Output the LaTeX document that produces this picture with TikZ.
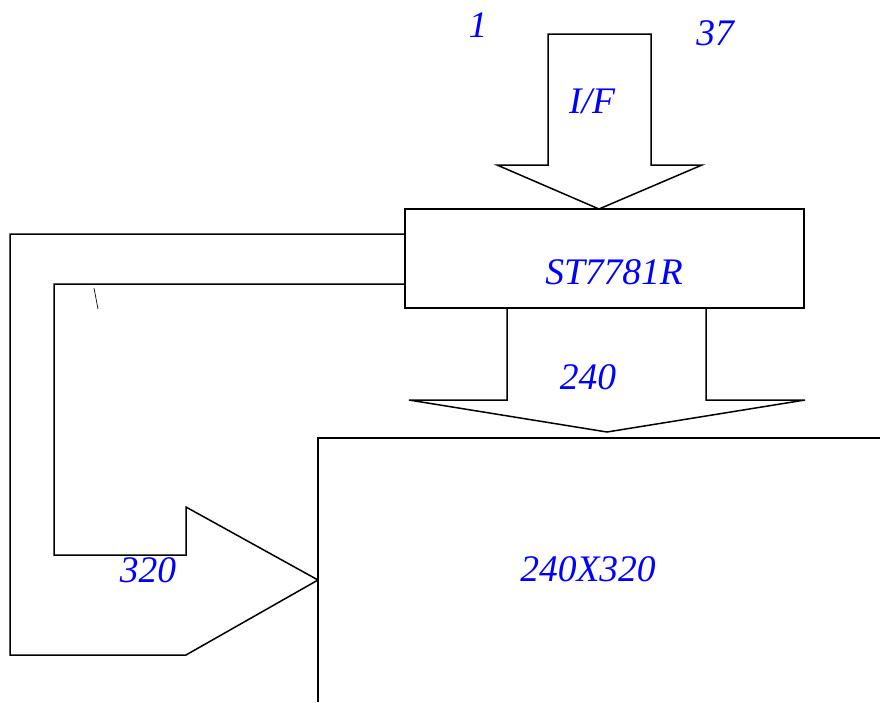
\documentclass[tikz,border=0pt]{standalone}
\usepackage{fontspec}
\setmainfont{Liberation Serif}
\usepackage{tikz}
\usetikzlibrary{positioning}

\begin{document}
\begin{tikzpicture}
                [x=1pt,y=-1pt,line width=1.5pt,line join=miter,
                lbl/.style={text=blue,font=\itshape\fontsize{37.5}{42}\selectfont,inner sep=0pt},
                chip/.style={draw,rectangle,minimum width=399pt,minimum height=99pt,inner sep=0pt}]
                \useasboundingbox (0,0) rectangle (880,702);
                \node[chip] (st) at (604.5,258.5){};
                \node[lbl] (stname) at (614,272){ST7781R};
                % the glass
                \coordinate (lcdtl) at (318,438);
                \draw (880,438) -- (lcdtl) -- (318,702);
                \coordinate (lcdin) at (318,580);
                \node[lbl] (lcdname) at (588,569){240X320};
                % interface arrow
                \coordinate (iftip) at (599,209);
                \draw (548,165) -- (548,34) -- (651,34) -- (651,165) -- (702,165)
                      -- (iftip) -- (497,165) -- cycle;
                \node[lbl] (ifname) at (592,101){I/F};
                \node[lbl] (pin1) at (478,25){1};
                \node[lbl] (pin37) at (715,33){37};
                % source arrow
                \coordinate (srctip) at (607,432);
                \draw (507,308) -- (507,400) -- (409,400) -- (srctip) -- (805,400) -- (706,400) -- (706,308);
                \node[lbl] (srcname) at (588,377){240};
                % gate arrow
                \draw (st.west |- 0,234) -- (10,234) -- (10,655) -- (186,655) -- (lcdin);
                \draw (st.west |- 0,284) -- (54,284) -- (54,555) -- (186,555) -- (186,507) -- (lcdin);
                \node[lbl] (gatename) at (148,570){320};
                \draw[line width=0.7pt] (94,288) -- (98,309);
            \end{tikzpicture}
\end{document}
